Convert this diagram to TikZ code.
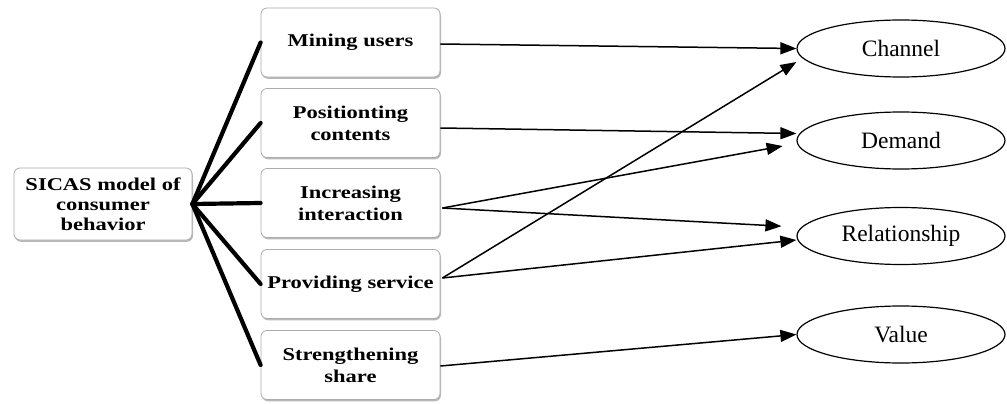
\documentclass[tikz,border=0pt]{standalone}
\usepackage{fontspec}
\setmainfont{Liberation Serif}
\newfontfamily\boxfont[FakeStretch=1.25]{Liberation Serif}
\usetikzlibrary{shapes.geometric,arrows.meta,calc,shadows}
\begin{document}
\begin{tikzpicture}[x=1pt,y=-1pt,
  boxnode/.style={rectangle, rounded corners=6pt, draw=gray!65, line width=0.8pt, fill=white,
    drop shadow={shadow xshift=1pt, shadow yshift=-1.8pt, fill=gray!55, opacity=1},
    minimum width=179pt, minimum height=69pt, inner sep=2pt, align=center,
    font=\boxfont\bfseries\fontsize{18}{22}\selectfont},
  ellnode/.style={ellipse, draw, line width=1.2pt, minimum width=208pt, minimum height=57pt,
    inner sep=0pt, font=\fontsize{23.5}{26}\selectfont},
  hub/.style={line width=4.2pt, line cap=round},
  arr/.style={line width=1.5pt, -{Triangle[length=16pt,width=12pt]}}]
\useasboundingbox (0,0) rectangle (1007,404);
% left box
\node[boxnode, minimum width=178pt, minimum height=72pt, font=\boxfont\bfseries\fontsize{18}{20}\selectfont] (sicas) at (103,204) {SICAS model of\\consumer\\behavior};
% middle boxes
\node[boxnode] (m1) at (350.5,42.5) {Mining users};
\node[boxnode] (m2) at (350.5,123) {Positionting\\contents};
\node[boxnode] (m3) at (350.5,203) {Increasing\\interaction};
\node[boxnode] (m4) at (350.5,284) {Providing service};
\node[boxnode] (m5) at (350.5,365) {Strengthening\\share};
% ellipses
\node[ellnode] (ch) at (901,48.5) {Channel};
\node[ellnode] (dem) at (901,140.5) {Demand};
\node[ellnode] (rel) at (901,236) {Relationship};
\node[ellnode] (val) at (901,334.5) {Value};
% hub lines
\foreach \m in {m1,m2,m3,m4,m5}{
  \draw[hub] (sicas.east) -- (\m.west);
}
% arrows
\draw[arr] ($(m1.east)+(0,1.5)$) -- (ch.west);
\draw[arr] ($(m2.east)+(0,5)$) -- ($(dem.west)+(0,-7)$);
\draw[arr, shorten >=14pt] ($(m3.east)+(2,5)$) -- ($(dem.west)+(0,3)$);
\draw[arr, shorten >=15pt] ($(m3.east)+(2,5)$) -- ($(rel.west)+(0,-9)$);
\draw[arr] ($(m4.east)+(2,-6)$) -- ($(ch.west)+(0,13.5)$);
\draw[arr] ($(m4.east)+(2,-6)$) -- ($(rel.west)+(0,4)$);
\draw[arr] ($(m5.east)+(0,1)$) -- (val.west);
\end{tikzpicture}
\end{document}
